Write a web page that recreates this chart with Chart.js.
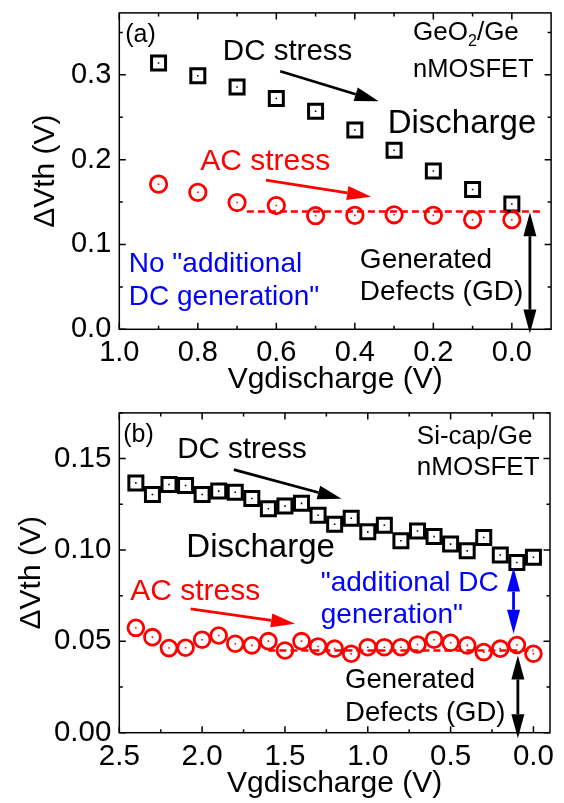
<!DOCTYPE html>
<html><head><meta charset="utf-8">
<script src="https://cdn.jsdelivr.net/npm/chart.js@4.4.1/dist/chart.umd.min.js"></script>
<style>
html,body{margin:0;padding:0;background:#fff;}
#wrap{position:relative;width:564px;height:803px;overflow:hidden;background:#fff;}
canvas{position:absolute;left:0;}
</style></head><body>
<div id="wrap">
<canvas id="ca" width="564" height="400" style="top:0px"></canvas>
<canvas id="cb" width="564" height="403" style="top:400px"></canvas>
</div>
<script>
// ---------- Panel (a): GeO2/Ge nMOSFET ----------
const vgA = [0.9, 0.8, 0.7, 0.6, 0.5, 0.4, 0.3, 0.2, 0.1, 0.0];
const dcA = [0.314, 0.299, 0.2856, 0.272, 0.257, 0.235, 0.211, 0.1866, 0.1649, 0.1478];
const acA = [0.1711, 0.1614, 0.1494, 0.1459, 0.1339, 0.1343, 0.1350, 0.1343, 0.1292, 0.1292];
const gdLevelA = 0.139;
const gdSpanA = [0.675, -0.08];
const xTicksA = [1.0, 0.8, 0.6, 0.4, 0.2, 0.0];
const xMinorA = [0.9, 0.7, 0.5, 0.3, 0.1];
const yTicksA = [0.0, 0.1, 0.2, 0.3];
const yMinorA = [0.05, 0.15, 0.25, 0.35];

// ---------- Panel (b): Si-cap/Ge nMOSFET ----------
const vgB = [2.4, 2.3, 2.2, 2.1, 2.0, 1.9, 1.8, 1.7, 1.6, 1.5, 1.4, 1.3, 1.2, 1.1, 1.0, 0.9, 0.8, 0.7, 0.6, 0.5, 0.4, 0.3, 0.2, 0.1, 0.0];
const dcB = [0.1367, 0.1304, 0.1358, 0.1353, 0.1304, 0.1322, 0.1316, 0.1282, 0.1226, 0.1240, 0.1255, 0.1190, 0.1141, 0.1173, 0.1099, 0.1135, 0.1050, 0.1104, 0.1073, 0.1032, 0.0995, 0.1068, 0.0972, 0.0931, 0.0960];
const acB = [0.0574, 0.0523, 0.0463, 0.0465, 0.0509, 0.0532, 0.0487, 0.0478, 0.0501, 0.0450, 0.0501, 0.0472, 0.0460, 0.0432, 0.0468, 0.0468, 0.0468, 0.0483, 0.0509, 0.0492, 0.0478, 0.0441, 0.0460, 0.0480, 0.0432];
const gdLevelB = 0.045;
const gdSpanB = [1.6, 0.0];
const xTicksB = [2.5, 2.0, 1.5, 1.0, 0.5, 0.0];
const xMinorB = [2.25, 1.75, 1.25, 0.75, 0.25];
const yTicksB = [0.00, 0.05, 0.10, 0.15];
const yMinorB = [0.025, 0.075, 0.125, 0.175];

const FONT = "'Liberation Sans', Arial, sans-serif";

function pts(xs, ys) { return xs.map((x, i) => ({x: x, y: ys[i]})); }

// ---------- decoration plugin (frame, inward ticks, texts, arrows) ----------
function arrowHead(ctx, x1, y1, x2, y2, len, hw) {
  const a = Math.atan2(y2 - y1, x2 - x1);
  const bx = x2 - len * Math.cos(a), by = y2 - len * Math.sin(a);
  ctx.beginPath();
  ctx.moveTo(x2, y2);
  ctx.lineTo(bx + hw * Math.sin(a), by - hw * Math.cos(a));
  ctx.lineTo(bx - hw * Math.sin(a), by + hw * Math.cos(a));
  ctx.closePath();
  ctx.fill();
  return [bx, by];
}
const deco = {
  id: 'deco',
  afterDraw(chart, args, o) {
    const ctx = chart.ctx, ca = chart.chartArea;
    const xs = chart.scales.x, ys = chart.scales.y;
    ctx.save();
    ctx.strokeStyle = '#000'; ctx.lineWidth = 1.5;
    ctx.strokeRect(ca.left, ca.top, ca.right - ca.left, ca.bottom - ca.top);
    const tick = (vals, len) => {
      vals.forEach(v => {
        const px = xs.getPixelForValue(v);
        ctx.beginPath();
        ctx.moveTo(px, ca.bottom); ctx.lineTo(px, ca.bottom - len);
        ctx.moveTo(px, ca.top); ctx.lineTo(px, ca.top + len);
        ctx.stroke();
      });
    };
    const ticky = (vals, len) => {
      vals.forEach(v => {
        const py = ys.getPixelForValue(v);
        ctx.beginPath();
        ctx.moveTo(ca.left, py); ctx.lineTo(ca.left + len, py);
        ctx.moveTo(ca.right, py); ctx.lineTo(ca.right - len, py);
        ctx.stroke();
      });
    };
    tick(o.xMajor, 6.5); tick(o.xMinor, 3.5);
    ticky(o.yMajor, 6.5); ticky(o.yMinor, 3.5);
    (o.arrows || []).forEach(ar => {
      let x1 = xs.getPixelForValue(ar.from[0]), y1 = ys.getPixelForValue(ar.from[1]);
      let x2 = xs.getPixelForValue(ar.to[0]), y2 = ys.getPixelForValue(ar.to[1]);
      ctx.strokeStyle = ar.color; ctx.fillStyle = ar.color; ctx.lineWidth = ar.lw || 2.8;
      const len = ar.len || 24, hw = ar.hw || 7;
      const b2 = arrowHead(ctx, x1, y1, x2, y2, len, hw);
      let s = [x1, y1];
      if (ar.both) s = arrowHead(ctx, x2, y2, x1, y1, len, hw);
      ctx.beginPath(); ctx.moveTo(s[0], s[1]); ctx.lineTo(b2[0], b2[1]); ctx.stroke();
    });
    ctx.textBaseline = 'alphabetic'; ctx.textAlign = 'left';
    (o.texts || []).forEach(t => {
      let px = xs.getPixelForValue(t.x), py = ys.getPixelForValue(t.y);
      ctx.fillStyle = t.color || '#000';
      const parts = t.parts || [{t: t.t}];
      parts.forEach(p => {
        const size = p.sub ? Math.round(t.size * 0.62) : t.size;
        ctx.font = size + 'px ' + FONT;
        ctx.fillText(p.t, px, py + (p.sub ? t.size * 0.22 : 0));
        px += ctx.measureText(p.t).width;
      });
    });
    ctx.restore();
  }
};

function noPad(s) { s.paddingTop = 0; s.paddingBottom = 0; s.paddingLeft = 0; s.paddingRight = 0; }

function makeChart(id, cfg) {
  const black = '#000', red = '#ff0000';
  return new Chart(document.getElementById(id), {
    type: 'scatter',
    data: {
      datasets: [
        {data: cfg.gdLine, showLine: true, borderColor: red, borderWidth: 2.5, borderDash: [7, 4], pointRadius: 0, pointHoverRadius: 0},
        {data: pts(cfg.vg, cfg.dc), pointStyle: 'rect', pointRadius: 9.9, borderColor: black, borderWidth: 3, backgroundColor: 'rgba(0,0,0,0)'},
        {data: pts(cfg.vg, cfg.dc), pointStyle: 'rect', pointRadius: 1.1, borderWidth: 0, backgroundColor: black},
        {data: pts(cfg.vg, cfg.ac), pointStyle: 'circle', pointRadius: cfg.cr, borderColor: red, borderWidth: 2.8, backgroundColor: 'rgba(0,0,0,0)'},
        {data: pts(cfg.vg, cfg.ac), pointStyle: 'rect', pointRadius: 1.1, borderWidth: 0, backgroundColor: red}
      ]
    },
    options: {
      responsive: false, animation: false, devicePixelRatio: 1,
      layout: {padding: {top: cfg.padTop, right: cfg.padRight, left: 0, bottom: 0}},
      plugins: {legend: {display: false}, tooltip: {enabled: false},
        deco: {xMajor: cfg.xTicks, xMinor: cfg.xMinor, yMajor: cfg.yTicks, yMinor: cfg.yMinor, texts: cfg.texts, arrows: cfg.arrows}},
      scales: {
        x: {
          type: 'linear', reverse: true, min: cfg.xmin, max: cfg.xmax,
          afterFit: s => { s.height = cfg.xH; noPad(s); },
          afterBuildTicks: s => { s.ticks = cfg.xTicks.map(v => ({value: v})); },
          grid: {display: false, drawTicks: false},
          border: {display: false},
          ticks: {color: '#000', font: {family: FONT, size: cfg.tickSize}, padding: 6, maxRotation: 0, autoSkip: false,
            callback: v => Number(v).toFixed(1)},
          title: {display: true, text: 'Vgdischarge (V)', color: '#000', font: {family: FONT, size: 30}, padding: {top: 0, bottom: cfg.xtPad}}
        },
        y: {
          type: 'linear', min: 0, max: cfg.ymax,
          afterFit: s => { s.width = 119.3; noPad(s); },
          afterBuildTicks: s => { s.ticks = cfg.yTicks.map(v => ({value: v})); },
          grid: {display: false, drawTicks: false},
          border: {display: false},
          ticks: {color: '#000', font: {family: FONT, size: cfg.tickSize}, padding: 8,
            callback: v => Number(v).toFixed(cfg.yDec)},
          title: {display: true, text: 'ΔVth (V)', color: '#000', font: {family: FONT, size: 30}, padding: {top: cfg.ytPad, bottom: 0}}
        }
      }
    },
    plugins: [deco]
  });
}

makeChart('ca', {
  vg: vgA, dc: dcA, ac: acA, cr: 8.2, tickSize: 29,
  gdLine: [{x: gdSpanA[0], y: gdLevelA}, {x: gdSpanA[1], y: gdLevelA}],
  xTicks: xTicksA, xMinor: xMinorA, yTicks: yTicksA, yMinor: yMinorA,
  xmin: -0.1, xmax: 1.0, ymax: 0.373, yDec: 1,
  padTop: 9, padRight: 12.5, xH: 70.7, xtPad: 2.5, ytPad: 28,
  texts: [
    {t: '(a)', x: 0.985, y: 0.3387, size: 25},
    {t: 'DC stress', x: 0.7362, y: 0.317, size: 29.5},
    {parts: [{t: 'GeO'}, {t: '2', sub: true}, {t: '/Ge'}], x: 0.2515, y: 0.3406, size: 26},
    {t: 'nMOSFET', x: 0.2515, y: 0.2972, size: 25.5},
    {t: 'Discharge', x: 0.3163, y: 0.2312, size: 33},
    {t: 'AC stress', x: 0.7941, y: 0.1874, size: 30, color: '#ff0000'},
    {t: 'No "additional', x: 0.9758, y: 0.0671, size: 28, color: '#0000ff'},
    {t: 'DC generation"', x: 0.9758, y: 0.0283, size: 28, color: '#0000ff'},
    {t: 'Generated', x: 0.3872, y: 0.0725, size: 28},
    {t: 'Defects (GD)', x: 0.3872, y: 0.0341, size: 28}
  ],
  arrows: [
    {from: [0.590, 0.3042], to: [0.3393, 0.2689], color: '#000'},
    {from: [0.6265, 0.1758], to: [0.3587, 0.1563], color: '#ff0000'},
    {from: [-0.046, 0.138], to: [-0.046, -0.005], color: '#000', both: true, len: 24, hw: 6.5}
  ]
});

makeChart('cb', {
  vg: vgB, dc: dcB, ac: acB, cr: 7.9, tickSize: 29.5,
  gdLine: [{x: gdSpanB[0], y: gdLevelB}, {x: gdSpanB[1], y: gdLevelB}],
  xTicks: xTicksB, xMinor: xMinorB, yTicks: yTicksB, yMinor: yMinorB,
  xmin: -0.1, xmax: 2.5, ymax: 0.175, yDec: 2,
  padTop: 11.7, padRight: 14, xH: 70.3, xtPad: 1.5, ytPad: 14,
  texts: [
    {t: '(b)', x: 2.476, y: 0.1592, size: 25},
    {t: 'DC stress', x: 2.150, y: 0.1503, size: 29.5},
    {t: 'Si-cap/Ge', x: 0.7041, y: 0.1580, size: 26},
    {t: 'nMOSFET', x: 0.7041, y: 0.1409, size: 26},
    {t: 'Discharge', x: 2.0954, y: 0.0962, size: 33},
    {t: 'AC stress', x: 2.434, y: 0.0727, size: 30, color: '#ff0000'},
    {t: '"additional DC', x: 1.2838, y: 0.0773, size: 28, color: '#0000ff'},
    {t: 'generation"', x: 1.2838, y: 0.0599, size: 28, color: '#0000ff'},
    {t: 'Generated', x: 1.137, y: 0.0247, size: 27.5},
    {t: 'Defects (GD)', x: 1.137, y: 0.0065, size: 27.5}
  ],
  arrows: [
    {from: [1.8086, 0.1440], to: [1.1582, 0.1280], color: '#000'},
    {from: [2.0694, 0.0678], to: [1.439, 0.0596], color: '#ff0000'},
    {from: [0.12, 0.0904], to: [0.12, 0.0541], color: '#0000ff', both: true, len: 24, hw: 6.5},
    {from: [0.094, 0.0423], to: [0.094, -0.003], color: '#000', both: true, len: 24, hw: 6.5}
  ]
});
</script>
</body></html>
